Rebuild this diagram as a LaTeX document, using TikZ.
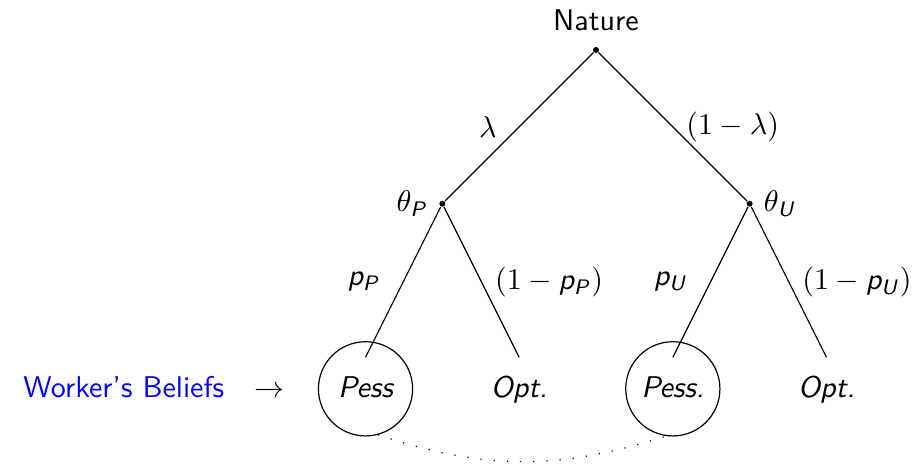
\documentclass[tikz,border=0pt]{standalone}
\usepackage{amsmath}
\usepackage{xcolor}
\usepackage{tikz}
\usetikzlibrary{positioning}
\DeclareMathAlphabet{\mathsfit}{OT1}{cmss}{m}{sl}
\tikzset{
    chance/.style = {circle, fill=black, inner sep=0pt, minimum size=2pt},
    outcome/.style = {rectangle, inner sep=1pt, text height=7pt, text depth=1pt, font=\sffamily\slshape},
    belief/.style = {circle, draw=black, minimum size=31.4pt, inner sep=0pt, text height=7pt, text depth=1pt, font=\sffamily\slshape},
    beliefs/.style = {rectangle, inner sep=0pt, text height=7pt, text depth=1pt, font=\sffamily},
    branch/.style = {draw=black, line width=0.4pt},
    infoset/.style = {draw=black, loosely dotted}
}

\begin{document}
\begin{tikzpicture}[node distance=1.8cm, font=\sffamily]
    \useasboundingbox (-6.982,-4.873) rectangle (3.725,0.586);

    % Nodes
    \node [chance, label={[label distance=1.5pt]above:Nature}] (nature) {};
    \node [chance, on grid, below left=1.8cm and 1.8cm of nature, label={left:$\theta_{\mathsfit{P}}$}] (thetaP) {};
    \node [chance, on grid, below right=1.8cm and 1.8cm of nature, label={right:$\theta_{\mathsfit{U}}$}] (thetaU) {};

    % Leaf ends
    \coordinate [on grid, below left=1.8cm and 0.9cm of thetaP] (endPP);
    \coordinate [on grid, below right=1.8cm and 0.9cm of thetaP] (endPO);
    \coordinate [on grid, below left=1.8cm and 0.9cm of thetaU] (endUP);
    \coordinate [on grid, below right=1.8cm and 0.9cm of thetaU] (endUO);

    \node [belief] at ([yshift=-10.5pt]endPP) (pessP) {Pess};
    \node [outcome] at ([yshift=-10.5pt]endPO) (optP) {Opt.};
    \node [belief] at ([yshift=-10.5pt]endUP) (pessU) {Pess.};
    \node [outcome] at ([yshift=-10.5pt]endUO) (optU) {Opt.};
    \node [beliefs, left=11pt of pessP] (workers) {\textcolor{blue}{Worker's Beliefs}\quad$\rightarrow$};

    % Branches
    \draw [branch] (nature) -- (thetaP) node[midway, left=4pt] {$\lambda$};
    \draw [branch] (nature) -- (thetaU) node[midway, right=1pt] {$(1-\lambda)$};
    \draw [branch] (thetaP) -- (endPP) node[midway, left=4pt] {$\mathsfit{p}_{\mathsfit{P}}$};
    \draw [branch] (thetaP) -- (endPO) node[midway, right=1pt] {$(1-\mathsfit{p}_{\mathsfit{P}})$};
    \draw [branch] (thetaU) -- (endUP) node[midway, left=4pt] {$\mathsfit{p}_{\mathsfit{U}}$};
    \draw [branch] (thetaU) -- (endUO) node[midway, right=1pt] {$(1-\mathsfit{p}_{\mathsfit{U}})$};

    % Information set
    \draw [infoset] (pessP.-75) to[bend right=18] (pessU.-98);
\end{tikzpicture}
\end{document}
